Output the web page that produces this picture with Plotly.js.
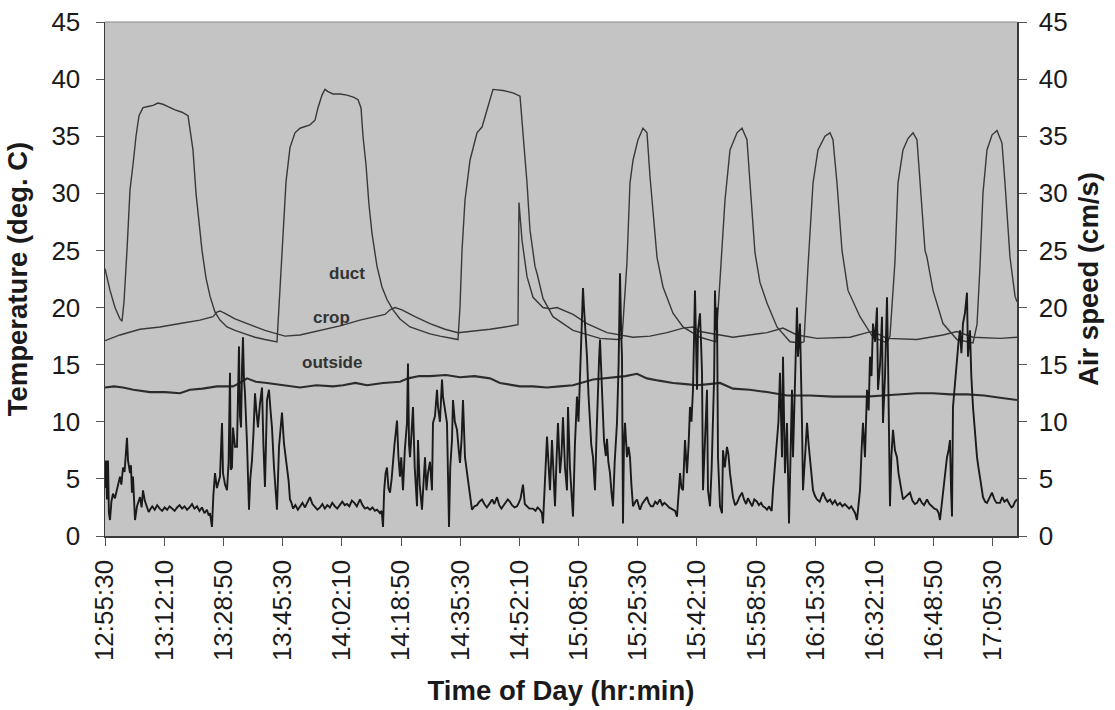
<!DOCTYPE html>
<html>
<head>
<meta charset="utf-8">
<script src="https://cdn.plot.ly/plotly-3.0.1.min.js"></script>
<style>html,body{margin:0;padding:0;background:#fff;}#chart{width:1115px;height:710px;}</style>
</head>
<body>
<div id="chart"></div>
<script>
// Time axis: minutes elapsed after the first tick label (12:55:30)
const startTime = '12:55:30';
const tickLabels = ['12:55:30','13:12:10','13:28:50','13:45:30','14:02:10','14:18:50','14:35:30','14:52:10',
  '15:08:50','15:25:30','15:42:10','15:58:50','16:15:30','16:32:10','16:48:50','17:05:30'];
const xRangeEnd = 256.76;

// Duct temperature (deg C)
const ductT = [0,1.41,2.82,4.22,4.79,5.35,6.19,7.04,7.88,8.73,9.57,10.70,12.11,13.51,14.92,16.33,17.74,19.71,21.68,23.37,24.21,24.77,25.62,26.46,27.31,28.43,29.56,30.97,32.38,34.35,36.60,39.41,42.23,45.04,48.42,
  48.70,49.83,50.96,52.08,53.49,54.90,57.71,59.12,59.97,61.09,61.94,62.78,64.19,66.16,68.13,70.10,71.23,72.07,72.64,73.48,74.32,75.17,76.58,77.98,79.39,81.08,83.05,85.87,88.68,91.50,94.31,97.13,99.38,
  99.94,100.51,101.35,102.76,104.73,106.14,107.54,109.23,112.05,114.86,116.84,117.68,118.81,119.65,121.06,121.62,123.31,126.12,131.76,139.36,144.14,145.55,
  146.96,147.80,148.65,150.06,151.46,152.59,153.43,155.41,157.10,159.91,162.73,167.51,172.02,
  173.14,174.55,175.96,177.93,179.34,180.74,181.59,182.99,184.40,186.37,189.19,192.85,195.66,196.79,
  197.92,199.33,200.73,202.70,204.11,204.95,206.08,207.49,209.18,212.56,216.22,220.16,221.00,
  222.40,223.25,224.66,226.07,227.48,228.60,229.45,230.86,231.42,233.11,235.92,239.86,244.37,245.50,
  246.34,247.18,248.31,249.72,251.13,252.53,253.38,254.79,256.20,256.76];
const ductV = [23.4,21.5,20.0,19.0,18.8,20.5,25.0,30.3,32.5,35.0,36.8,37.5,37.6,37.7,37.9,37.8,37.6,37.3,37.1,36.8,35.0,33.8,30.0,27.2,25.0,22.6,21.0,19.6,18.9,18.3,18.0,17.7,17.4,17.2,17.0,
  18.5,24.4,31.0,34.0,35.3,35.7,36.0,36.4,37.5,38.6,39.1,38.9,38.7,38.7,38.6,38.4,38.2,37.5,35.0,32.5,29.0,26.5,23.6,21.8,20.7,19.8,19.0,18.3,18.0,17.7,17.5,17.3,17.2,
  20.0,25.0,29.4,32.9,35.3,35.8,37.3,39.1,39.0,38.8,38.5,35.3,30.9,26.8,23.6,23.0,20.8,19.2,18.0,17.3,17.2,17.3,
  24.0,30.9,32.9,34.7,35.7,35.3,31.5,24.4,21.8,19.5,18.3,17.4,17.0,
  22.4,29.4,33.8,35.3,35.7,34.7,30.9,24.8,22.2,20.4,18.3,17.0,16.9,17.0,
  23.6,30.9,33.8,35.0,35.3,34.7,30.9,25.0,21.5,19.2,17.4,16.9,17.5,
  24.0,30.9,33.8,34.8,35.3,34.7,30.9,25.0,24.4,21.5,18.6,17.2,16.9,18.5,
  23.6,30.0,33.8,35.1,35.5,34.4,30.9,24.4,21.0,20.5];

// Crop temperature (deg C)
const cropT = [0,4.22,9.85,15.48,21.11,26.75,30.40,31.53,32.38,33.78,36.60,40.82,45.04,48.42,50.68,54.90,60.53,66.16,71.79,78.83,80.24,81.64,83.61,87.27,91.50,95.72,99.38,102.76,108.39,112.61,116.27,
  116.55,117.40,118.81,120.50,123.31,125.28,127.25,129.50,131.76,135.70,141.33,148.65,153.43,158.22,162.73,165.54,167.51,176.80,186.37,190.88,194.82,200.45,209.74,214.53,216.22,220.16,228.60,235.92,239.86,244.37,251.97,256.76];
const cropV = [17.1,17.6,18.1,18.3,18.6,18.9,19.2,19.6,19.7,19.5,19.0,18.5,18.0,17.7,17.5,17.6,18.0,18.4,18.9,19.4,19.8,20.0,19.8,19.2,18.6,18.1,17.8,17.9,18.1,18.3,18.5,
  29.2,25.9,22.7,20.9,20.0,19.9,20.0,19.7,19.4,18.6,17.8,17.4,17.5,17.8,18.2,18.3,17.9,17.4,17.8,18.2,17.6,17.3,17.4,17.8,17.9,17.3,17.2,17.6,17.9,17.4,17.3,17.4];

// Outside temperature (deg C)
const outsideT = [0,2.5,5.07,8.0,12.67,17.0,21.11,23.93,27.5,31.53,36.04,38.0,39.98,42.5,45.61,50.11,54.90,59.5,64.19,67.00,70.5,73.76,78.27,83.05,85.30,88.5,91.50,96.0,99.94,104.0,108.39,111.20,116.84,120.5,124.44,128.0,131.76,137.39,143.02,146.5,149.77,152.59,156.0,159.91,163.5,166.67,170.0,173.14,176.80,181.5,186.37,192.01,198.5,204.95,209.5,214.53,219.0,223.82,228.5,233.11,238.0,242.68,247.5,251.97,256.76];
const outsideV = [13.0,13.1,13.0,12.8,12.6,12.6,12.5,12.8,12.9,13.1,13.1,13.4,13.8,13.5,13.4,13.2,13.0,13.2,13.1,13.2,13.4,13.2,13.4,13.5,13.8,14.0,14.0,14.1,13.9,14.0,13.8,13.4,13.1,13.1,13.0,13.1,13.2,13.7,13.9,14.0,14.2,13.8,13.6,13.4,13.3,13.2,13.3,13.4,12.9,12.8,12.6,12.3,12.3,12.2,12.2,12.2,12.3,12.4,12.5,12.5,12.4,12.4,12.3,12.1,11.9];

// Air speed (cm/s), right axis
const airT = [0.0,0.28,0.56,0.84,1.1,1.41,1.8,2.25,2.8,3.38,3.8,4.22,4.6,5.07,5.5,6.19,6.48,7.04,7.3,7.60,7.88,8.45,9.01,9.4,9.85,10.3,10.70,11.2,11.82,12.3,12.67,
  13.3,14.0,14.7,15.4,16.1,16.8,17.5,18.2,18.9,19.6,20.3,21.0,21.7,22.4,23.1,23.8,24.5,25.2,25.9,26.6,27.3,28.0,28.7,29.2,29.56,
  30.12,30.5,30.97,31.5,32.38,32.94,33.22,33.8,34.35,34.8,35.19,35.4,35.75,36.04,36.6,37.16,37.72,38.0,38.29,38.6,38.85,39.1,39.41,39.98,40.54,40.9,41.38,41.8,42.23,42.6,43.07,43.6,44.20,44.6,45.04,45.61,46.17,46.6,47.01,47.58,48.0,48.42,48.99,49.4,49.83,50.39,51.24,51.7,52.08,52.5,52.93,
  53.6,54.3,54.9,55.6,56.3,57.0,57.71,58.4,59.1,59.8,60.53,61.2,61.9,62.6,63.3,64.0,64.7,65.4,66.1,66.8,67.5,68.13,68.8,69.5,70.2,70.9,71.79,72.5,73.2,73.9,74.61,75.3,76.0,76.6,77.42,77.9,
  78.27,78.6,79.0,79.39,79.8,80.24,80.7,81.08,81.5,82.21,82.6,83.05,83.4,83.90,84.4,85.02,85.30,85.6,85.87,86.3,86.71,87.2,87.84,88.12,88.6,89.24,89.7,90.09,90.5,90.93,91.5,92.06,92.34,92.9,93.47,93.75,94.3,94.88,95.16,95.7,96.28,96.85,97.2,97.69,97.97,98.5,99.10,99.6,99.94,100.4,100.79,101.35,101.8,102.20,102.8,103.32,
  104.0,104.73,105.4,106.14,106.8,107.5,108.39,109.0,109.6,110.36,111.0,111.6,112.05,112.7,113.4,114.02,114.6,115.3,115.99,116.5,117.0,117.68,118.2,118.81,119.5,120.50,121.2,121.8,122.47,123.0,123.31,
  124.44,125.0,125.28,125.84,126.3,126.69,127.1,127.53,128.10,128.5,128.94,129.5,130.07,130.35,130.9,131.47,131.76,132.3,132.88,133.3,133.73,134.1,134.57,134.85,135.14,135.70,136.1,136.54,136.9,137.39,137.95,138.4,138.80,139.1,139.36,139.92,140.48,141.0,141.33,141.7,142.17,142.6,143.02,143.5,144.14,144.6,144.99,145.3,145.55,145.83,146.1,146.40,146.96,147.4,147.80,148.2,148.65,
  149.3,149.77,150.3,150.62,151.2,151.8,152.59,153.1,153.7,154.28,154.9,155.5,156.25,156.9,157.5,158.22,158.8,159.4,159.91,160.5,161.04,
  161.89,162.3,162.73,163.29,163.85,164.3,164.70,165.1,165.54,166.10,166.4,166.67,166.95,167.51,167.8,168.08,168.36,168.9,169.48,169.76,170.33,170.8,171.17,171.5,171.73,172.02,172.30,172.58,173.14,173.71,173.99,174.5,175.11,175.5,175.96,176.4,176.80,
  177.4,177.93,178.6,179.34,179.9,180.5,181.0,181.59,182.2,182.8,183.56,184.1,184.7,185.25,185.8,186.37,187.0,187.22,187.7,
  188.06,188.6,189.19,189.6,190.03,190.3,190.60,190.88,191.2,191.44,192.01,192.57,193.0,193.41,193.70,194.2,194.82,195.10,195.4,195.66,196.23,196.51,197.1,197.64,198.1,198.48,199.0,199.33,199.9,200.45,
  201.2,202.14,202.8,203.4,204.11,204.8,205.5,206.2,206.93,207.6,208.3,208.90,209.5,210.1,210.59,211.2,211.71,
  212.56,213.0,213.40,213.96,214.53,215.0,215.37,215.8,216.22,216.8,217.34,217.62,218.2,218.75,219.03,219.6,220.16,220.44,221.00,221.4,221.85,222.4,222.97,223.4,223.82,224.3,224.66,
  225.3,226.07,226.63,227.3,228.0,228.60,229.3,230.0,230.6,231.42,232.1,232.8,233.5,234.23,234.7,235.08,
  235.92,236.5,237.05,237.5,237.89,238.2,238.46,238.74,239.3,239.86,240.3,240.71,241.1,241.55,242.1,242.68,242.96,243.52,243.9,244.37,244.9,245.50,245.9,246.34,246.9,247.18,
  247.8,248.31,249.0,249.72,250.4,251.0,251.97,252.6,253.2,253.94,254.6,255.2,255.63,256.2,256.76];
const airV = [4.2,6.6,3.2,6.6,2.0,1.4,3.0,3.7,3.3,4.0,4.6,5.2,4.5,6.0,5.6,8.6,6.6,5.5,6.2,3.8,5.2,1.4,2.6,3.0,3.4,2.5,4.0,3.1,2.6,2.1,2.3,
  2.6,2.3,2.7,2.4,2.2,2.5,2.3,2.6,2.4,2.2,2.5,2.7,2.4,2.6,2.3,2.5,2.8,2.4,2.6,2.2,2.5,2.0,2.3,1.8,2.0,
  0.8,3.5,5.5,4.2,5.2,9.9,5.5,4.5,4.0,6.5,14.3,5.8,6.0,9.5,7.8,7.8,16.6,10.5,9.5,15.0,17.4,14.0,12.5,8.1,2.3,5.0,6.6,9.0,12.5,11.0,9.5,11.5,13.0,8.0,4.3,11.9,12.8,11.0,9.5,6.0,4.5,2.3,7.8,9.0,10.8,8.1,6.0,4.8,3.2,2.9,2.4,
  2.7,2.3,2.6,2.9,2.5,3.0,3.4,2.8,2.5,2.3,2.5,2.8,2.4,2.7,2.5,2.9,2.6,2.4,2.7,3.0,2.7,2.8,2.6,3.1,2.9,2.6,3.2,2.7,2.4,2.5,2.3,2.5,2.2,2.3,2.0,2.2,
  0.8,4.0,5.5,6.0,4.2,3.8,5.0,6.6,8.0,10.1,7.0,5.2,6.9,4.0,7.5,9.9,15.1,8.0,6.9,9.0,11.3,6.0,2.6,8.4,4.5,2.3,5.0,6.9,4.0,5.5,6.5,4.0,9.9,10.5,12.8,11.3,10.0,13.7,12.2,11.0,9.9,0.8,6.0,8.4,11.9,10.0,9.3,7.5,6.4,8.5,11.9,6.9,5.5,4.9,3.5,2.3,
  2.6,2.7,3.0,3.2,2.8,2.5,2.9,3.2,2.8,3.4,2.7,2.4,2.6,2.9,3.2,3.0,2.7,2.5,2.6,2.9,3.3,4.5,2.8,2.6,2.4,2.4,2.2,2.5,2.3,2.0,1.1,
  8.7,5.0,4.0,8.4,5.0,2.6,6.5,9.9,5.5,7.0,10.4,6.0,4.0,11.3,6.0,2.6,1.7,8.0,12.2,10.0,14.5,17.0,21.7,20.0,18.7,15.7,12.5,9.9,8.0,6.9,4.0,9.0,14.3,15.5,17.2,12.8,8.4,7.0,8.5,6.5,5.5,3.8,2.6,6.5,9.9,15.0,23.0,18.0,15.7,1.1,8.0,9.9,6.9,7.8,6.9,4.5,2.6,
  3.0,3.2,2.6,2.3,2.8,3.1,3.4,2.9,2.6,2.6,3.0,2.8,3.2,2.7,2.9,2.7,2.5,2.4,2.3,2.2,1.7,
  5.5,4.2,4.0,8.4,5.5,8.0,11.3,10.0,12.8,21.5,15.0,12.8,18.0,19.5,17.0,14.3,4.0,8.0,12.8,4.0,2.6,6.0,9.9,14.0,21.5,18.0,20.0,6.9,2.6,2.0,7.5,6.0,7.8,7.2,5.5,4.2,3.4,
  2.7,2.9,3.4,3.8,3.2,2.8,3.3,2.9,2.6,3.2,3.0,2.7,2.9,2.6,2.5,2.3,2.6,2.4,2.2,
  4.0,6.0,8.4,10.0,14.3,10.5,6.9,15.7,9.0,5.5,9.9,1.1,7.0,12.8,6.9,12.0,20.0,15.7,17.0,18.6,9.9,4.0,7.0,9.9,8.0,6.9,5.5,4.0,3.5,3.2,
  3.0,3.8,3.3,3.0,3.2,2.8,3.1,2.7,2.9,2.6,2.8,2.6,2.4,2.6,2.3,2.0,1.4,
  4.0,7.5,9.9,6.9,12.8,11.0,15.7,14.0,18.6,17.0,20.0,12.8,15.0,19.2,9.9,14.0,20.9,15.7,2.6,7.0,9.3,7.5,6.9,5.5,4.6,3.8,3.2,
  3.4,3.6,3.8,3.1,2.8,2.9,3.3,2.9,2.7,3.2,2.8,2.6,2.4,2.3,2.0,1.4,
  4.0,5.5,6.9,7.5,8.4,4.0,1.7,11.3,13.5,15.7,17.0,18.0,16.0,18.6,19.5,21.3,15.7,18.0,14.0,11.3,9.0,6.9,6.0,4.9,4.0,3.4,
  3.0,2.9,3.3,3.8,3.2,2.9,2.9,3.4,3.0,3.2,2.8,2.5,2.6,3.0,3.2];

// ---- build ----
function secOf(s){const p=s.split(':').map(Number);return p[0]*3600+p[1]*60+p[2];}
const t0 = secOf(startTime);
const tickVals = tickLabels.map(l => (secOf(l)-t0)/60);

const FONT = 'Liberation Sans, Arial, Helvetica, sans-serif';
const ln = (c,w)=>({color:c,width:w,shape:'linear'});

const traces = [
  {x:ductT, y:ductV, type:'scatter', mode:'lines', name:'duct', line:ln('#383838',1.4), hoverinfo:'skip'},
  {x:cropT, y:cropV, type:'scatter', mode:'lines', name:'crop', line:ln('#383838',1.4), hoverinfo:'skip'},
  {x:outsideT, y:outsideV, type:'scatter', mode:'lines', name:'outside', line:ln('#2c2c2c',2.1), hoverinfo:'skip'},
  {x:airT, y:airV, type:'scatter', mode:'lines', name:'air speed', yaxis:'y2', line:ln('#1a1a1a',1.9), hoverinfo:'skip'}
];

const axisCommon = {
  showgrid:false, zeroline:false, showline:true, linecolor:'#3a3a3a', linewidth:1.5,
  ticks:'outside', ticklen:8, tickcolor:'#555', tickwidth:1,
  tickfont:{family:FONT, size:26, color:'#1a1a1a'}
};
const titleFont = {family:FONT, size:27.5, weight:'bold', color:'#1a1a1a'};

const layout = {
  width:1115, height:710,
  margin:{l:105, r:98, t:22, b:174, pad:0},
  paper_bgcolor:'#ffffff', plot_bgcolor:'#c4c4c4',
  showlegend:false,
  font:{family:FONT, color:'#1a1a1a'},
  xaxis: Object.assign({}, axisCommon, {
    range:[0, xRangeEnd], tickmode:'array', tickvals:tickVals, ticktext:tickLabels,
    tickangle:-90, ticklabelstandoff:4,
    title:{text:'Time of Day (hr:min)', font:titleFont, standoff:20}
  }),
  yaxis: Object.assign({}, axisCommon, {
    range:[0,45], tickmode:'linear', tick0:0, dtick:5, ticklabelstandoff:10,
    title:{text:'Temperature (deg. C)', font:titleFont, standoff:16}
  }),
  yaxis2: Object.assign({}, axisCommon, {
    range:[0,45], tickmode:'linear', tick0:0, dtick:5, overlaying:'y', side:'right', ticklabelstandoff:7,
    title:{text:'Air speed (cm/s)', font:titleFont, standoff:12}
  }),
  shapes:[
    {type:'line', xref:'paper', yref:'paper', x0:0, x1:1, y0:1, y1:1, line:{color:'#8a8a8a', width:1.2}}
  ],
  annotations:[
    {text:'duct', x:68.1, y:23.0, xref:'x', yref:'y', showarrow:false, font:{family:FONT, size:17, weight:'bold', color:'#333'}},
    {text:'crop', x:63.9, y:19.1, xref:'x', yref:'y', showarrow:false, font:{family:FONT, size:17, weight:'bold', color:'#333'}},
    {text:'outside', x:63.9, y:15.15, xref:'x', yref:'y', showarrow:false, font:{family:FONT, size:17, weight:'bold', color:'#333'}}
  ]
};

Plotly.newPlot('chart', traces, layout, {staticPlot:true, displayModeBar:false});
</script>
</body>
</html>
